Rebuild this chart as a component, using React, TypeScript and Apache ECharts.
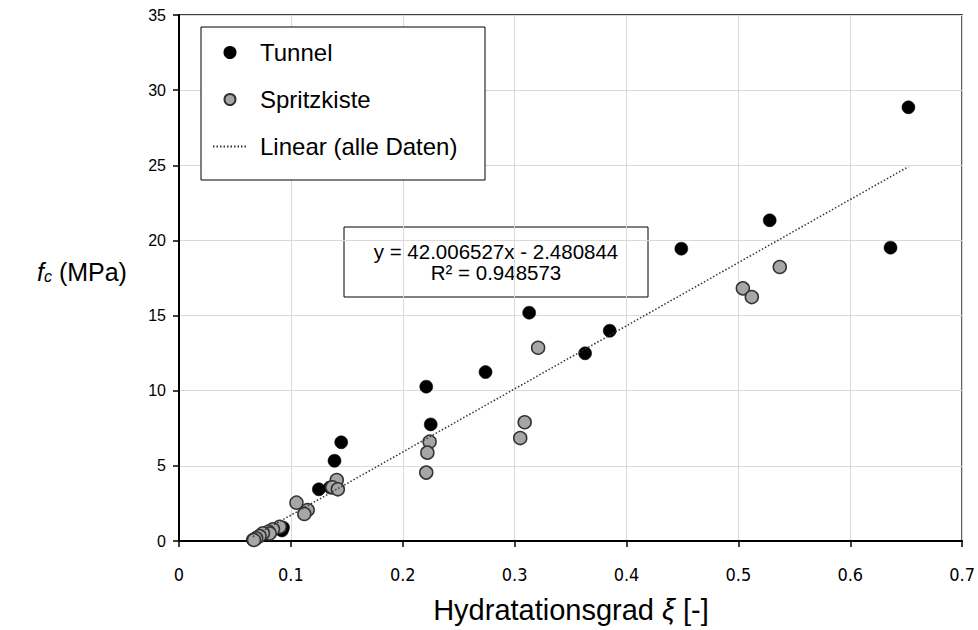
import React, { useEffect, useRef } from "react";
import * as echarts from "echarts";

const tunnelX = [0.652, 0.636, 0.528, 0.449, 0.385, 0.363, 0.313, 0.274, 0.221, 0.225, 0.145, 0.139, 0.135, 0.125, 0.093, 0.092, 0.09, 0.07, 0.066, 0.068];
const tunnelY = [28.86, 19.52, 21.34, 19.45, 13.99, 12.49, 15.19, 11.24, 10.27, 7.76, 6.57, 5.34, 3.57, 3.44, 0.89, 0.7, 0.8, 0.25, 0.08, 0.15];

const spritzX = [0.537, 0.504, 0.512, 0.321, 0.309, 0.305, 0.224, 0.222, 0.221, 0.141, 0.137, 0.142, 0.105, 0.115, 0.112, 0.09, 0.084, 0.08, 0.081, 0.075, 0.072, 0.069, 0.067];
const spritzY = [18.23, 16.81, 16.23, 12.86, 7.9, 6.85, 6.61, 5.88, 4.55, 4.06, 3.57, 3.44, 2.55, 2.06, 1.8, 0.95, 0.78, 0.62, 0.5, 0.51, 0.33, 0.18, 0.07];

const slope = 42.006527;
const intercept = -2.480844;
const equationText = "y = 42.006527x - 2.480844";
const r2Text = "R² = 0.948573";

const xTicks = [0, 0.1, 0.2, 0.3, 0.4, 0.5, 0.6, 0.7];
const yTicks = [0, 5, 10, 15, 20, 25, 30, 35];

const seriesNames = ["Tunnel", "Spritzkiste", "Linear (alle Daten)"];

const ARIAL = "'Liberation Sans', Arial, sans-serif";
const NARROW = "'Liberation Sans Narrow', 'DejaVu Sans Condensed', sans-serif";

export default function App() {
  const ref = useRef<HTMLDivElement>(null);
  useEffect(() => {
    if (!ref.current) return;
    const chart = echarts.init(ref.current, undefined, { renderer: "svg" });
    const allX = tunnelX.concat(spritzX);
    const xMin = Math.min(...allX);
    const xMax = Math.max(...allX);
    const trend = [
      [xMin, slope * xMin + intercept],
      [xMax, slope * xMax + intercept],
    ];
    chart.setOption({
      animation: false,
      grid: {
        left: 179,
        right: 14,
        top: 15,
        bottom: 89,
        show: true,
        borderColor: "#000",
        borderWidth: 1.5,
        backgroundColor: "transparent",
      },
      xAxis: {
        type: "value",
        min: xTicks[0],
        max: xTicks[xTicks.length - 1],
        interval: 0.1,
        axisLine: { show: true, lineStyle: { color: "#000", width: 2 } },
        axisTick: { show: true, length: 6, lineStyle: { color: "#000", width: 1.5 } },
        splitLine: { show: true, lineStyle: { color: "#d9d9d9", width: 1 } },
        axisLabel: {
          color: "#000",
          fontSize: 18,
          fontFamily: NARROW,
          margin: 24,
          formatter: (v: number) => String(Math.round(v * 10) / 10),
        },
      },
      yAxis: {
        type: "value",
        min: yTicks[0],
        max: yTicks[yTicks.length - 1],
        interval: 5,
        axisLine: { show: true, lineStyle: { color: "#000", width: 2 } },
        axisTick: { show: true, length: 6, lineStyle: { color: "#000", width: 1.5 } },
        splitLine: { show: true, lineStyle: { color: "#d9d9d9", width: 1 } },
        axisLabel: { color: "#000", fontSize: 16, fontFamily: ARIAL, margin: 13 },
      },
      legend: {
        orient: "vertical",
        left: 212,
        top: 40,
        padding: 0,
        z: 10,
        itemWidth: 34,
        itemHeight: 11,
        itemGap: 22,
        data: [
          { name: seriesNames[0] },
          { name: seriesNames[1] },
          {
            name: seriesNames[2],
            itemStyle: { color: "rgba(0,0,0,0)", borderColor: "rgba(0,0,0,0)", borderWidth: 0 },
          },
        ],
        textStyle: {
          fontSize: 24,
          fontFamily: ARIAL,
          color: "#000",
          lineHeight: 25,
          padding: [0, 0, 0, 8],
        },
      },
      graphic: [
        {
          type: "rect",
          shape: { x: 201, y: 27, width: 284, height: 153 },
          style: { fill: "#fff", stroke: "#000", lineWidth: 1 },
          z: 2,
          silent: true,
        },
        {
          type: "group",
          z: 5,
          children: [
            {
              type: "rect",
              shape: { x: 344, y: 227, width: 304, height: 70 },
              style: { fill: "#fff", stroke: "#000", lineWidth: 1 },
            },
            {
              type: "text",
              x: 496,
              y: 262,
              style: {
                text: equationText + "\n" + r2Text,
                fontSize: 20.5,
                lineHeight: 21,
                fontFamily: ARIAL,
                fill: "#000",
                align: "center",
                verticalAlign: "middle",
              },
            },
          ],
        },
        {
          type: "text",
          x: 37,
          y: 272,
          style: {
            text: "{f|f}{c|c}{r| (MPa)}",
            verticalAlign: "middle",
            rich: {
              f: { fontSize: 25, fontStyle: "italic", fontFamily: ARIAL, fill: "#000" },
              c: { fontSize: 16, fontStyle: "italic", fontFamily: ARIAL, fill: "#000", padding: [8, 0, 0, 0] },
              r: { fontSize: 25, fontFamily: ARIAL, fill: "#000" },
            },
          },
        },
        {
          type: "text",
          x: 571,
          y: 610,
          style: {
            text: "{a|Hydratationsgrad }{b|ξ}{a| [-]}",
            align: "center",
            verticalAlign: "middle",
            rich: {
              a: { fontSize: 29, fontFamily: ARIAL, fill: "#000" },
              b: { fontSize: 29, fontFamily: ARIAL, fontStyle: "italic", fill: "#000" },
            },
          },
        },
      ],
      series: [
        {
          name: seriesNames[0],
          type: "scatter",
          symbol: "circle",
          symbolSize: 13,
          itemStyle: { color: "#000", borderColor: "#000", borderWidth: 0.5, opacity: 1 },
          data: tunnelX.map((x, i) => [x, tunnelY[i]]),
          z: 3,
        },
        {
          name: seriesNames[1],
          type: "scatter",
          symbol: "circle",
          symbolSize: 13,
          itemStyle: { color: "#a6a6a6", borderColor: "#333", borderWidth: 1.5, opacity: 1 },
          data: spritzX.map((x, i) => [x, spritzY[i]]),
          z: 3,
        },
        {
          name: seriesNames[2],
          type: "line",
          showSymbol: false,
          symbol: "none",
          itemStyle: { color: "#333" },
          lineStyle: { color: "#333", width: 1.5, type: [1.5, 2] },
          data: trend,
          z: 4,
        },
      ],
    });
    return () => chart.dispose();
  }, []);
  return (
    <div
      ref={ref}
      style={{ position: "fixed", left: 0, top: 0, width: 978, height: 630, background: "#fff" }}
    />
  );
}
